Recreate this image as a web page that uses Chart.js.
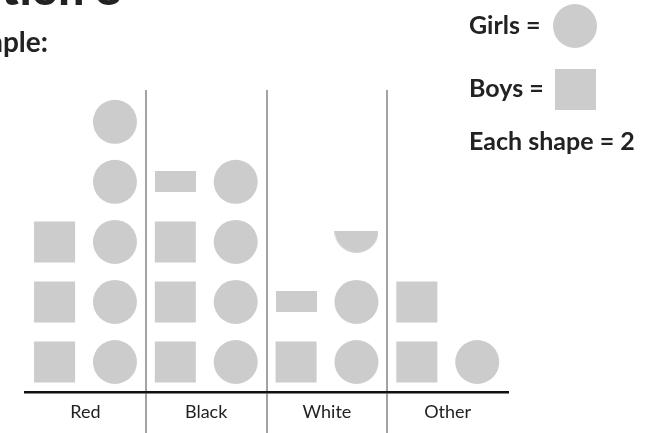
<!DOCTYPE html>
<html>
<head>
<meta charset="utf-8">
<script src="https://cdn.jsdelivr.net/npm/chart.js@4.4.1/dist/chart.umd.min.js"></script>
<style>
  html, body { margin: 0; padding: 0; background: #fff; }
  #wrap { position: relative; width: 659px; height: 433px; overflow: hidden; font-family: Lato, "Open Sans", sans-serif; color: #222; }
  #wrap canvas { position: absolute; left: 0; top: 0; }
  .txt { position: absolute; white-space: nowrap; line-height: 1; }
  #title { font-size: 46px; font-weight: 900; right: 537px; top: -35px; }
  #sub { font-size: 28px; font-weight: 700; right: 611px; top: 27px; }
  .leg { font-size: 25px; font-weight: 700; left: 469px; }
  .shape { position: absolute; background: #cccccc; }
</style>
</head>
<body>
<div id="wrap">
  <canvas id="chart" width="659" height="433"></canvas>
  <div class="txt" id="title">Question 8</div>
  <div class="txt" id="sub">Example:</div>
  <div class="txt leg" style="top:12px">Girls =</div>
  <div class="shape" style="left:553px;top:4px;width:44px;height:44px;border-radius:50%"></div>
  <div class="txt leg" style="top:75px">Boys =</div>
  <div class="shape" style="left:555px;top:69px;width:41px;height:41px"></div>
  <div class="txt leg" style="top:128px">Each shape = 2</div>
</div>
<script>
// pictogram data, each shape = 2
const categories = ['Red', 'Black', 'White', 'Other'];
const boys = [6, 7, 3, 4];
const girls = [10, 8, 5, 2];
const perShape = 2;

const grey = '#cccccc';

// half shapes for odd counts
function halfRect() {
  const c = document.createElement('canvas');
  c.width = 41; c.height = 21;
  const g = c.getContext('2d');
  g.fillStyle = grey;
  g.fillRect(0, 0, 41, 21);
  return c;
}
function halfCircle() {
  const c = document.createElement('canvas');
  c.width = 44; c.height = 22;
  const g = c.getContext('2d');
  g.fillStyle = grey;
  g.beginPath();
  g.arc(22, 0, 22, 0, Math.PI);
  g.closePath();
  g.fill();
  return c;
}
const halfR = halfRect();
const halfC = halfCircle();

function toShapes(values, offset) {
  const pts = [];
  values.forEach((v, i) => {
    const full = Math.floor(v / perShape);
    for (let k = 0; k < full; k++) pts.push({x: i + offset, y: k + 0.5, half: false});
    if (v % perShape) pts.push({x: i + offset, y: full + 0.5, half: true});
  });
  return pts;
}

new Chart(document.getElementById('chart'), {
  type: 'scatter',
  data: {
    datasets: [{
      label: 'Boys',
      data: toShapes(boys, 0.245),
      backgroundColor: grey,
      borderWidth: 0,
      pointRadius: 29,
      pointStyle: ctx => (ctx.raw && ctx.raw.half) ? halfR : 'rect'
    }, {
      label: 'Girls',
      data: toShapes(girls, 0.745),
      backgroundColor: grey,
      borderWidth: 0,
      pointRadius: 22,
      pointStyle: ctx => (ctx.raw && ctx.raw.half) ? halfC : 'circle'
    }]
  },
  options: {
    responsive: false,
    animation: false,
    events: [],
    layout: { autoPadding: false, padding: { left: 25, right: 151, top: 90, bottom: 0 } },
    plugins: { legend: { display: false }, tooltip: { enabled: false } },
    scales: {
      x: {
        type: 'linear',
        min: 0,
        max: categories.length,
        afterFit: s => { s.height = 41; },
        border: { display: true, color: '#111', width: 2.5 },
        grid: {
          lineWidth: 2,
          tickLength: 41,
          color: ctx => {
            const v = ctx.tick ? ctx.tick.value : 0;
            return (v % 1 === 0 && v > 0 && v < categories.length) ? '#a3a3a3' : 'rgba(0,0,0,0)';
          }
        },
        ticks: {
          stepSize: 0.5,
          autoSkip: false,
          maxRotation: 0,
          padding: -32,
          color: '#222',
          font: { family: 'Lato', size: 18 },
          callback: v => (v % 1 === 0.5) ? categories[Math.floor(v)] : ''
        }
      },
      y: {
        display: false,
        min: 0,
        max: 5.03
      }
    }
  }
});
</script>
</body>
</html>
